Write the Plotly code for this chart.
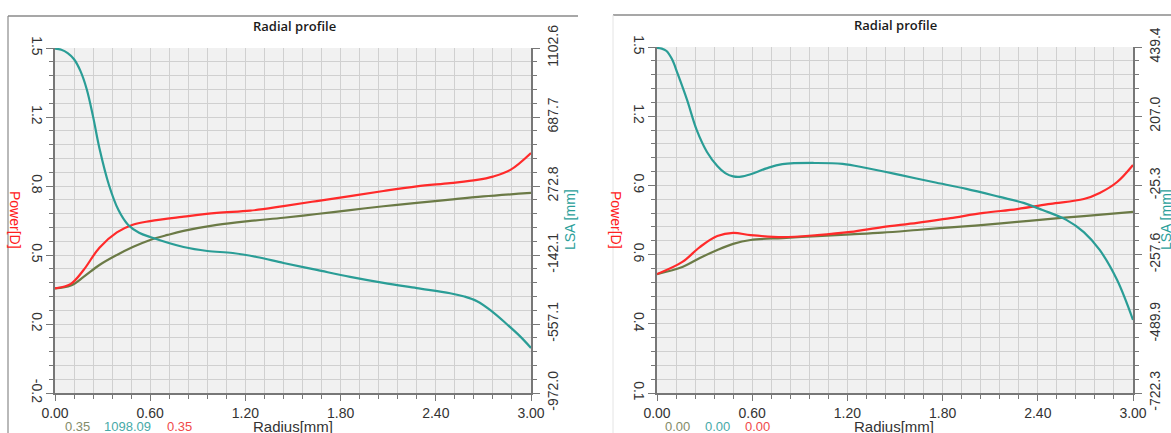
import plotly.graph_objects as go
import numpy as np

# ---------------- data ----------------
# Left panel
r_power_left = [0, 0.1, 0.18, 0.28, 0.39, 0.49, 0.6, 0.8, 1.02, 1.23, 1.44, 1.65, 1.86, 2.07, 2.28, 2.49, 2.66, 2.76, 2.87, 3.0]
power_left = [0.35, 0.372, 0.438, 0.545, 0.618, 0.655, 0.672, 0.692, 0.711, 0.722, 0.744, 0.768, 0.792, 0.816, 0.838, 0.854, 0.869, 0.885, 0.917, 0.998]

r_olive_left = [0, 0.1, 0.18, 0.28, 0.39, 0.49, 0.6, 0.71, 0.81, 1.02, 1.23, 1.44, 1.65, 1.86, 2.07, 2.28, 2.49, 2.70, 3.0]
olive_left = [0.35, 0.364, 0.405, 0.462, 0.510, 0.548, 0.582, 0.606, 0.625, 0.654, 0.673, 0.688, 0.706, 0.725, 0.743, 0.759, 0.775, 0.790, 0.807]

r_lsa_left = [0, 0.04, 0.08, 0.12, 0.16, 0.20, 0.24, 0.28, 0.34, 0.40, 0.46, 0.53, 0.6, 0.81, 0.96, 1.12, 1.27, 1.44, 1.65, 1.86, 2.07, 2.28, 2.49, 2.58, 2.66, 2.75, 2.85, 2.93, 3.0]
lsa_left = [1098, 1092, 1072, 1035, 965, 855, 690, 500, 279, 128, 40, -8, -34, -94, -118, -130, -154, -190, -232, -274, -310, -341, -372, -392, -420, -478, -560, -630, -701]

# Right panel
r_power_right = [0, 0.16, 0.27, 0.38, 0.48, 0.59, 0.79, 1.01, 1.22, 1.42, 1.64, 1.85, 2.06, 2.27, 2.48, 2.69, 2.79, 2.90, 3.0]
power_right = [0.568, 0.618, 0.679, 0.724, 0.737, 0.728, 0.720, 0.728, 0.741, 0.761, 0.778, 0.798, 0.819, 0.835, 0.856, 0.876, 0.901, 0.946, 1.016]

r_olive_right = [0, 0.16, 0.27, 0.38, 0.48, 0.59, 0.79, 1.01, 1.22, 1.42, 1.64, 1.85, 2.06, 2.27, 2.48, 2.69, 3.0]
olive_right = [0.568, 0.597, 0.634, 0.667, 0.692, 0.708, 0.716, 0.724, 0.731, 0.738, 0.749, 0.760, 0.770, 0.782, 0.795, 0.806, 0.823]

r_lsa_right = [0, 0.03, 0.06, 0.095, 0.13, 0.19, 0.25, 0.315, 0.38, 0.43, 0.48, 0.53, 0.59, 0.69, 0.79, 1.01, 1.17, 1.32, 1.53, 1.74, 1.95, 2.16, 2.31, 2.43, 2.58, 2.69, 2.79, 2.90, 3.0]
lsa_right = [436, 434, 426, 398, 350, 261, 161, 87, 40, 16, 5, 4, 12, 32, 46, 50, 47, 33, 10, -14, -37, -64, -84, -108, -141, -182, -242, -343, -477]

# Axis tick labels
x_ticks = [0.0, 0.6, 1.2, 1.8, 2.4, 3.0]
x_ticktext = ["0.00", "0.60", "1.20", "1.80", "2.40", "3.00"]

power_range_left = [-0.15, 1.5]
power_ticktext_left = ["-0.2", "0.2", "0.5", "0.8", "1.2", "1.5"]
lsa_range_left = [-972.0, 1102.6]
lsa_ticktext_left = ["-972.0", "-557.1", "-142.1", "272.8", "687.7", "1102.6"]

power_range_right = [0.08, 1.5]
power_ticktext_right = ["0.1", "0.4", "0.6", "0.9", "1.2", "1.5"]
lsa_range_right = [-722.3, 439.4]
lsa_ticktext_right = ["-722.3", "-489.9", "-257.6", "-25.3", "207.0", "439.4"]

readout_left = ["0.35", "1098.09", "0.35"]
readout_right = ["0.00", "0.00", "0.00"]

# ---------------- style ----------------
W, H = 1171, 433
RED = "#ff2a2a"
OLIVE = "#6b7a46"
TEAL = "#2a9d96"
GRID = "#d0d0d0"
AXIS = "#777777"
TICKFONT = dict(family="Liberation Sans, Arial, sans-serif", size=14, color="#333333")


def px_x(x):
    return x / W


def px_y(y):
    return 1 - y / H


fig = go.Figure()


def add_panel(xa, ya, ya2, r_p, p, r_o, o, r_l, l):
    fig.add_trace(go.Scatter(x=r_l, y=l, xaxis=xa, yaxis=ya2, mode="lines",
                             line=dict(color=TEAL, width=2.2, shape="spline", smoothing=1.0),
                             showlegend=False, hoverinfo="skip"))
    fig.add_trace(go.Scatter(x=r_o, y=o, xaxis=xa, yaxis=ya, mode="lines",
                             line=dict(color=OLIVE, width=2.2, shape="spline", smoothing=1.0),
                             showlegend=False, hoverinfo="skip"))
    fig.add_trace(go.Scatter(x=r_p, y=p, xaxis=xa, yaxis=ya, mode="lines",
                             line=dict(color=RED, width=2.2, shape="spline", smoothing=1.0),
                             showlegend=False, hoverinfo="skip"))


add_panel("x", "y", "y2", r_power_left, power_left, r_olive_left, olive_left, r_lsa_left, lsa_left)
add_panel("x2", "y3", "y4", r_power_right, power_right, r_olive_right, olive_right, r_lsa_right, lsa_right)


def xaxis_cfg(domain, anchor):
    return dict(domain=domain, anchor=anchor, range=[0, 3], automargin=False,
                tickmode="array", tickvals=x_ticks, ticktext=x_ticktext,
                ticks="outside", ticklen=6, tickcolor=AXIS, tickwidth=1,
                showgrid=True, gridcolor=GRID, gridwidth=1,
                minor=dict(tickvals=list(np.round(np.arange(0, 3.0001, 0.12), 2)), showgrid=True,
                           gridcolor=GRID, gridwidth=1, ticks="outside", ticklen=4, tickcolor=AXIS),
                showline=True, linecolor=AXIS, linewidth=1.5, zeroline=False,
                tickfont=TICKFONT, fixedrange=True)


def yaxis_cfg(domain, anchor, rng, ticktext, side="left", overlaying=None, grid=True):
    vals = list(np.linspace(rng[0], rng[1], 6))
    minor_vals = list(np.linspace(rng[0], rng[1], 26))
    cfg = dict(domain=domain, anchor=anchor, range=rng, side=side, automargin=False,
               tickmode="array", tickvals=vals, ticktext=ticktext,
               tickangle=90 if side == "left" else -90,
               ticklabelstandoff=-3 if side == "left" else 1,
               ticks="outside", ticklen=7, tickcolor=AXIS, tickwidth=1,
               showgrid=grid, gridcolor=GRID, gridwidth=1,
               minor=dict(tickvals=minor_vals, showgrid=grid, gridcolor=GRID, gridwidth=1,
                          ticks="outside", ticklen=4, tickcolor=AXIS),
               showline=True, linecolor=AXIS, linewidth=1.5, zeroline=False,
               tickfont=TICKFONT, fixedrange=True)
    if overlaying:
        cfg["overlaying"] = overlaying
    return cfg


dom_y_left = [px_y(393), px_y(48)]
dom_y_right = [px_y(393), px_y(47)]

fig.update_layout(
    width=W, height=H,
    margin=dict(l=0, r=0, t=0, b=0, autoexpand=False),
    paper_bgcolor="white",
    plot_bgcolor="#f1f1f1",
    xaxis=xaxis_cfg([px_x(55), px_x(531)], "y"),
    yaxis=yaxis_cfg(dom_y_left, "x", power_range_left, power_ticktext_left),
    yaxis2=yaxis_cfg(dom_y_left, "x", lsa_range_left, lsa_ticktext_left, side="right", overlaying="y", grid=False),
    xaxis2=xaxis_cfg([px_x(657), px_x(1133)], "y3"),
    yaxis3=yaxis_cfg(dom_y_right, "x2", power_range_right, power_ticktext_right),
    yaxis4=yaxis_cfg(dom_y_right, "x2", lsa_range_right, lsa_ticktext_right, side="right", overlaying="y3", grid=False),
)

# panel frame lines
shapes = [
    dict(type="line", xref="paper", yref="paper", x0=px_x(8), x1=px_x(578), y0=px_y(16), y1=px_y(16),
         line=dict(color="#8a8a8a", width=1.5)),
    dict(type="line", xref="paper", yref="paper", x0=px_x(8), x1=px_x(8), y0=px_y(16), y1=0,
         line=dict(color="#8a8a8a", width=1.2)),
    dict(type="line", xref="paper", yref="paper", x0=px_x(613), x1=1, y0=px_y(15), y1=px_y(15),
         line=dict(color="#8a8a8a", width=1.5)),
    dict(type="line", xref="paper", yref="paper", x0=px_x(613), x1=px_x(613), y0=px_y(15), y1=0,
         line=dict(color="#e4e4e4", width=1)),
]
fig.update_layout(shapes=shapes)

ann = []
TITLEFONT = dict(family="Open Sans, Noto Sans, sans-serif", size=13, color="#1a1a1a", weight=600)
LBLFONT = dict(family="Liberation Sans, Arial, sans-serif", size=14)


def text(x, y, s, font, angle=0):
    ann.append(dict(x=px_x(x), y=px_y(y), xref="paper", yref="paper", text=s, showarrow=False,
                    font=font, textangle=angle, xanchor="center", yanchor="middle"))


# titles
text(294, 26, "Radial profile", TITLEFONT)
text(895, 25, "Radial profile", TITLEFONT)
# axis titles
text(15, 220, "Power[D]", dict(LBLFONT, color="#ff2020"), angle=90)
text(570, 220, "LSA [mm]", dict(LBLFONT, color="#2aa09a"), angle=-90)
text(616, 220, "Power[D]", dict(LBLFONT, color="#ff2020"), angle=90)
text(1166, 220, "LSA [mm]", dict(LBLFONT, color="#2aa09a"), angle=-90)
# x titles
text(293, 426, "Radius[mm]", dict(family="Liberation Sans, Arial, sans-serif", size=15, color="#333333"))
text(894, 426, "Radius[mm]", dict(family="Liberation Sans, Arial, sans-serif", size=15, color="#333333"))
# readouts
RFONT = dict(family="Liberation Sans, Arial, sans-serif", size=13)
cols = ["#828c6a", "#47aaa8", "#f04a4a"]
for xx, s, c in zip([77, 127, 179], readout_left, cols):
    text(xx, 426, s, dict(RFONT, color=c))
for xx, s, c in zip([677, 717, 757], readout_right, cols):
    text(xx, 426, s, dict(RFONT, color=c))

fig.update_layout(annotations=ann)

fig.write_html("out.html")
